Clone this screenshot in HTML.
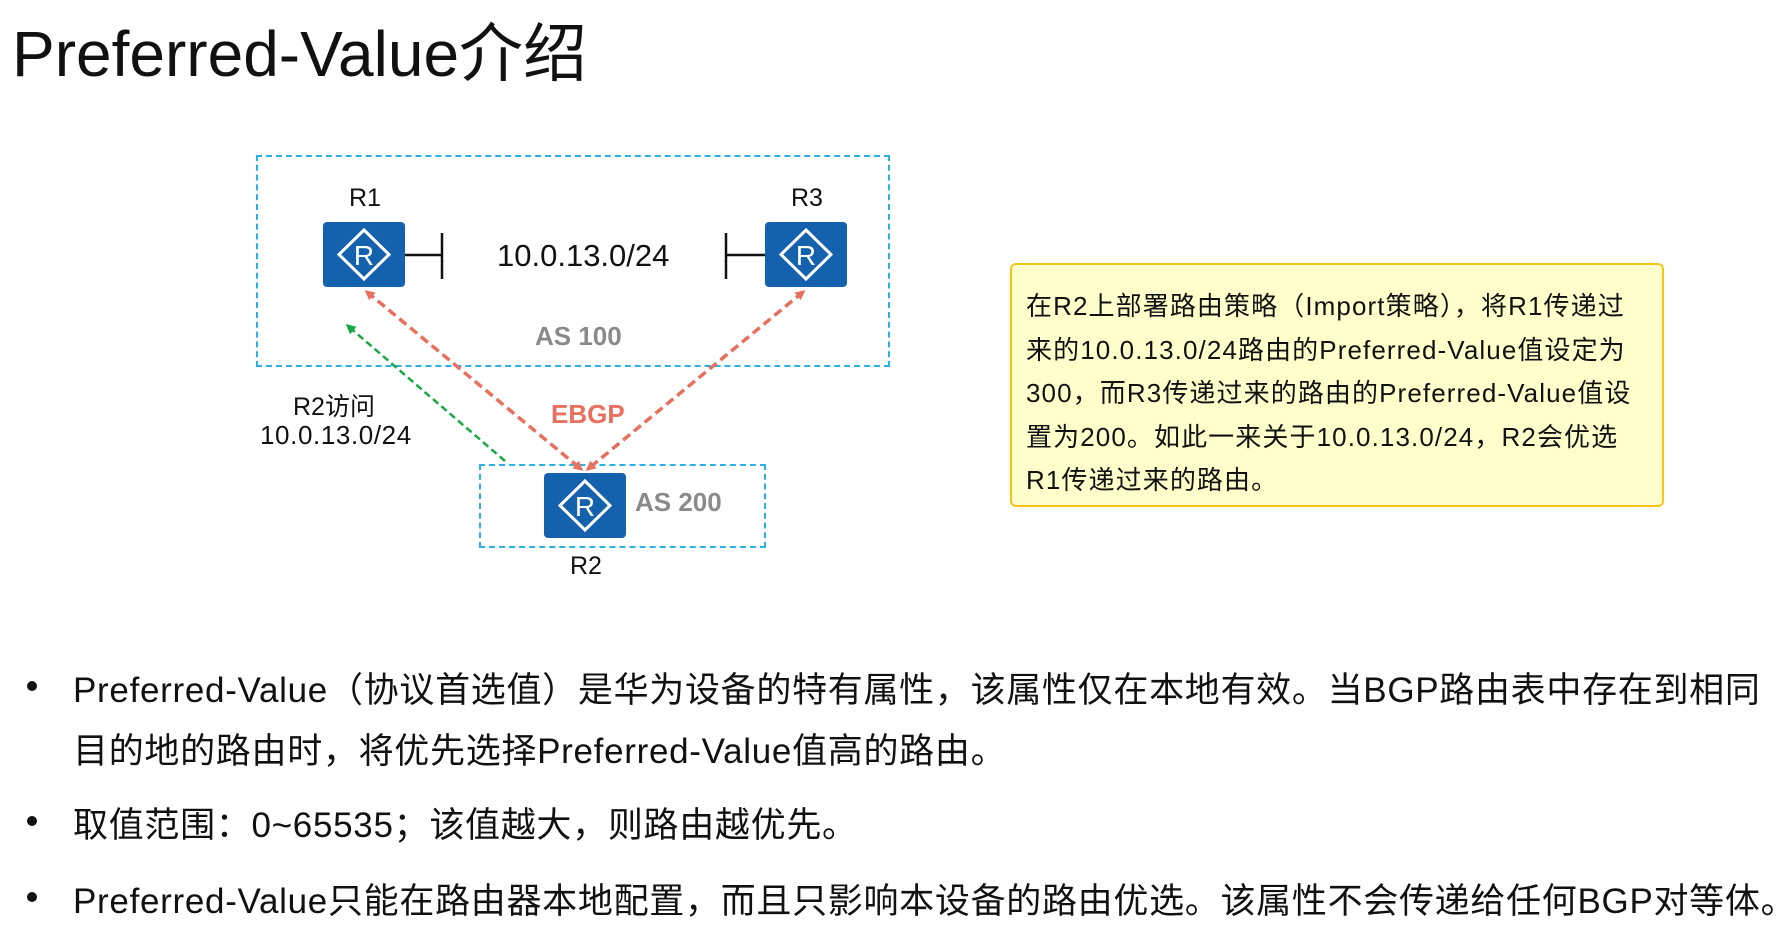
<!DOCTYPE html>
<html><head><meta charset="utf-8"><style>
body{margin:0;width:1787px;height:927px;background:#fff;position:relative;overflow:hidden;font-family:"Liberation Sans","Noto Sans CJK SC",sans-serif;color:#111}
.a{position:absolute;white-space:nowrap}
.t{left:12px;top:3px;font-size:64px;}
.box{position:absolute;border:2px dashed #2ab0e8;box-sizing:border-box}
.yb{position:absolute;left:1010px;top:263px;width:654px;height:244px;background:#ffffcc;border:2px solid #f5c518;border-radius:6px;box-sizing:border-box;padding:20px 0 0 14px;font-size:26px;letter-spacing:1.1px;line-height:43.5px;white-space:nowrap}
.bl{font-size:35px;left:73px;letter-spacing:0.7px}
.dot{position:absolute;left:27px;width:10px;height:10px;border-radius:5px;background:#111}
</style></head><body>
<div class="a t">Preferred-Value介绍</div>
<div class="box" style="left:256px;top:155px;width:634px;height:212px"></div>
<div class="box" style="left:479px;top:464px;width:287px;height:84px"></div>
<svg class="a" style="left:0;top:0" width="1787" height="927">
<defs>
<g id="rt"><rect x="0" y="0" width="82" height="65" rx="4" fill="#1462ad"/><polygon points="41,8 66,32.5 41,57 16,32.5" fill="none" stroke="#fff" stroke-width="3"/><text x="41" y="43" font-size="28" fill="#fff" text-anchor="middle" font-family="Liberation Sans">R</text></g>
<marker id="mr" markerWidth="10" markerHeight="10" refX="7" refY="5" orient="auto-start-reverse" markerUnits="userSpaceOnUse"><path d="M0,0 L10,5 L0,10 z" fill="#e8705e"/></marker>
<marker id="mg" markerWidth="10" markerHeight="10" refX="7" refY="5" orient="auto" markerUnits="userSpaceOnUse"><path d="M0,0 L10,5 L0,10 z" fill="#1aa845"/></marker>
</defs>
<use href="#rt" x="323" y="222"/><use href="#rt" x="765" y="222"/><use href="#rt" x="544" y="473"/>
<path d="M405 255H442M442 233V279M765 255H726M726 233V279" stroke="#111" stroke-width="2.5" fill="none"/>
<line x1="367" y1="292" x2="581" y2="469" stroke="#e8705e" stroke-width="3.5" stroke-dasharray="9,5" marker-start="url(#mr)" marker-end="url(#mr)"/>
<line x1="803" y1="292" x2="588" y2="469" stroke="#e8705e" stroke-width="3.5" stroke-dasharray="9,5" marker-start="url(#mr)" marker-end="url(#mr)"/>
<line x1="505" y1="461" x2="348" y2="326" stroke="#1aa845" stroke-width="2.5" stroke-dasharray="7,4" marker-end="url(#mg)"/>
</svg>
<div class="a" style="left:349px;top:184px;font-size:25px">R1</div>
<div class="a" style="left:791px;top:184px;font-size:25px">R3</div>
<div class="a" style="left:497px;top:238px;font-size:31px">10.0.13.0/24</div>
<div class="a" style="left:535px;top:321px;font-size:26px;font-weight:bold;color:#8a8a8a">AS 100</div>
<div class="a" style="left:551px;top:399px;font-size:26px;font-weight:bold;color:#e8705e">EBGP</div>
<div class="a" style="left:635px;top:487px;font-size:26px;font-weight:bold;color:#8a8a8a">AS 200</div>
<div class="a" style="left:570px;top:552px;font-size:25px">R2</div>
<div class="a" style="left:293px;top:387px;font-size:25px">R2访问</div>
<div class="a" style="left:260px;top:420px;font-size:26px;letter-spacing:0.6px">10.0.13.0/24</div>
<div class="yb">在R2上部署路由策略（Import策略），将R1传递过<br>来的10.0.13.0/24路由的Preferred-Value值设定为<br>300，而R3传递过来的路由的Preferred-Value值设<br>置为200。如此一来关于10.0.13.0/24，R2会优选<br>R1传递过来的路由。</div>
<div class="dot" style="top:681px"></div><div class="dot" style="top:816px"></div><div class="dot" style="top:892px"></div>
<div class="a bl" style="top:662px">Preferred-Value（协议首选值）是华为设备的特有属性，该属性仅在本地有效。当BGP路由表中存在到相同</div>
<div class="a bl" style="top:723px">目的地的路由时，将优先选择Preferred-Value值高的路由。</div>
<div class="a bl" style="top:797px">取值范围：0~65535；该值越大，则路由越优先。</div>
<div class="a bl" style="top:873px">Preferred-Value只能在路由器本地配置，而且只影响本设备的路由优选。该属性不会传递给任何BGP对等体。</div>
</body></html>
